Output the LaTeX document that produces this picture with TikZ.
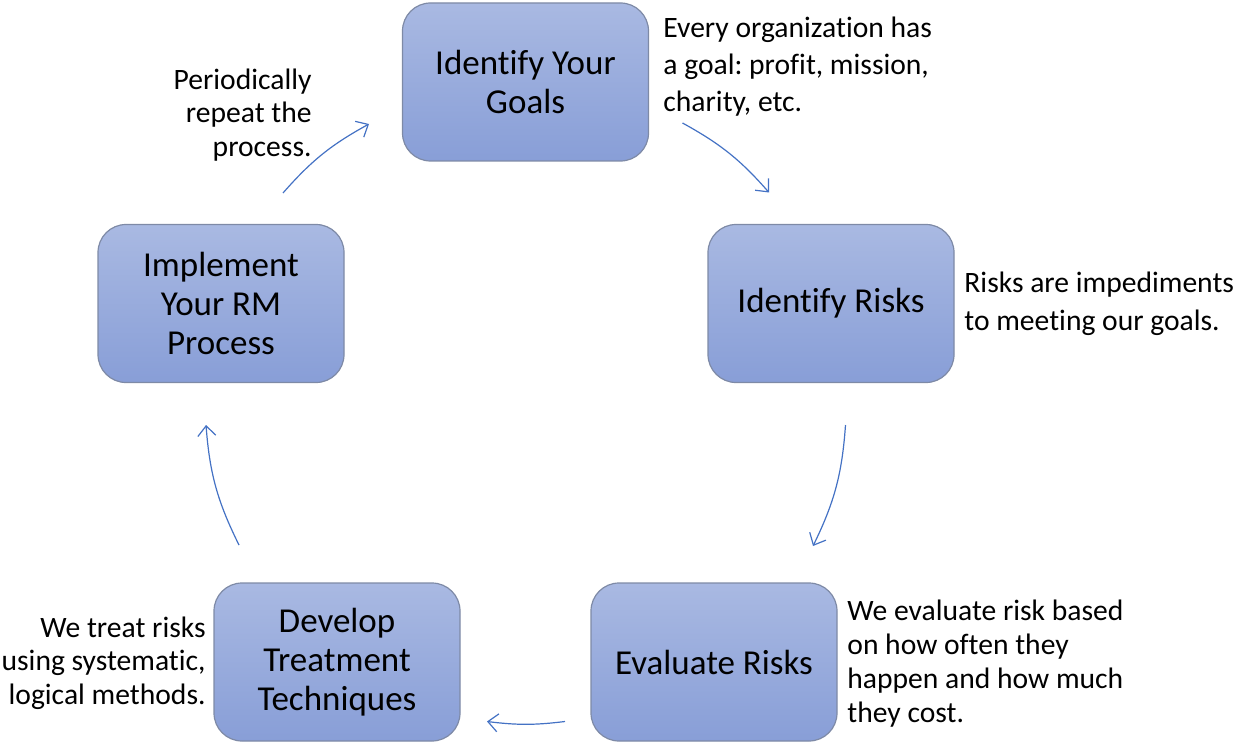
\documentclass[tikz,border=0pt]{standalone}
\usepackage{fontspec}
\setmainfont{Carlito}[Ligatures=NoCommon]
\usetikzlibrary{arrows.meta}
\frenchspacing

\definecolor{boxtop}{HTML}{A9B9E2}
\definecolor{boxbot}{HTML}{889ED7}
\definecolor{boxedge}{HTML}{7E8AA6}
\definecolor{flow}{HTML}{4472C4}

\begin{document}
\begin{tikzpicture}[x=0.5pt,y=0.5pt,
  stepbox/.style={draw=boxedge, line width=0.6pt, rounded corners=14pt,
    top color=boxtop, bottom color=boxbot,
    minimum width=123pt, minimum height=79pt, inner sep=0pt,
    align=center, font=\fontsize{17.5}{19.5}\selectfont},
  note/.style={inner sep=0pt, font=\fontsize{14.8}{#1}\selectfont},
  note/.default=18pt,
  flowarrow/.style={draw=flow, line width=0.6pt,
    -{Straight Barb[length=5pt,width=9pt]}}]

\useasboundingbox (0,0) rectangle (1236,746);

% process steps
\node[stepbox] (goals)     at (525.5,664)  {Identify Your\\Goals};
\node[stepbox] (risks)     at (831,442.5)  {Identify Risks};
\node[stepbox] (evaluate)  at (714,84)     {Evaluate Risks};
\node[stepbox] (develop)   at (337,84)     {Develop\\Treatment\\Techniques};
\node[stepbox] (implement) at (221,442.5)  {Implement\\Your RM\\Process};

% explanatory notes
\node[note=18.5, align=left, anchor=north west] (goalsnote) at (663,729.5)
  {Every organization has\\a goal: profit, mission,\\charity, etc.};
\node[note=19, align=left, anchor=north west] (risksnote) at (964,474.5)
  {Risks are impediments\\to meeting our goals.};
\node[note=17, align=left, anchor=north west] (evalnote) at (847,146.5)
  {We evaluate risk based\\on how often they\\happen and how much\\they cost.};
\node[note=16.7, align=right, anchor=north east] (devnote) at (206,129.5)
  {We treat risks\\using systematic,\\logical methods.};
\node[note=16.7, align=right, anchor=north east] (implnote) at (312,677.5)
  {Periodically\\repeat the\\process.};

% arrow ends on the cycle
\coordinate (a1s) at (682.5,623);
\coordinate (a1e) at (769,553.5);
\coordinate (a2s) at (845.5,321);
\coordinate (a2e) at (813,200);
\coordinate (a3s) at (565,24.5);
\coordinate (a3e) at (487,24.5);
\coordinate (a4s) at (239,201);
\coordinate (a4e) at (206,321);
\coordinate (a5s) at (283,553);
\coordinate (a5e) at (369,622);

\draw[flowarrow] (a1s) to[bend left=10] (a1e);
\draw[flowarrow] (a2s) to[bend left=11] (a2e);
\draw[flowarrow] (a3s) to[bend left=7]  (a3e);
\draw[flowarrow] (a4s) to[bend left=11] (a4e);
\draw[flowarrow] (a5s) to[bend left=10] (a5e);

\end{tikzpicture}
\end{document}
